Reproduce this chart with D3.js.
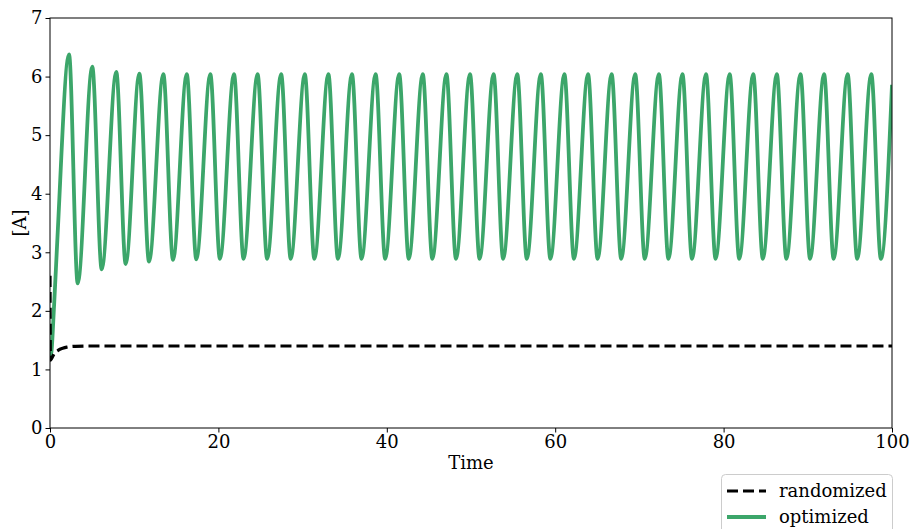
<!DOCTYPE html>
<html>
<head>
<meta charset="utf-8">
<script src="https://cdn.jsdelivr.net/npm/d3@7"></script>
<style>
  body { margin: 0; background: #fff; }
  svg { display: block; }
  text { font-family: "DejaVu Serif", "Liberation Serif", serif; fill: #000; }
</style>
</head>
<body>
<svg id="chart" width="910" height="529"></svg>
<script>
// Axis ticks
const xTicks = [0, 20, 40, 60, 80, 100];
const yTicks = [0, 1, 2, 3, 4, 5, 6, 7];

// Randomized parameters: quick settle to a steady level
const randomizedT = [0, 0.05, 0.2, 0.5, 1, 1.5, 2, 3, 5, 100];
const randomizedA = [2.6, 1.16, 1.19, 1.27, 1.33, 1.36, 1.38, 1.395, 1.40, 1.40];

// Optimized parameters: sustained oscillation (turning points)
const optimizedT = [
  0, 0.1, 0.48, 0.87,
  2.26, 3.29, 5.02, 6.14, 7.87, 8.99, 10.61, 11.76, 13.46, 14.61,
  16.24, 17.38, 19.04, 20.18, 21.85, 22.99, 24.65, 25.79, 27.45, 28.59,
  30.26, 31.40, 33.06, 34.20, 35.86, 37.00, 38.67, 39.81, 41.47, 42.61,
  44.27, 45.41, 47.08, 48.22, 49.88, 51.02, 52.68, 53.82, 55.49, 56.63,
  58.29, 59.43, 61.09, 62.23, 63.90, 65.04, 66.70, 67.84, 69.50, 70.64,
  72.31, 73.45, 75.11, 76.25, 77.91, 79.05, 80.72, 81.86, 83.52, 84.66,
  86.32, 87.46, 89.13, 90.27, 91.93, 93.07, 94.73, 95.87, 97.54, 98.68,
  100
];
const optimizedA = [
  1.30, 1.25, 2.08, 3.21,
  6.38, 2.47, 6.17, 2.71, 6.08, 2.80, 6.05, 2.84, 6.04, 2.87,
  6.04, 2.88, 6.04, 2.89, 6.04, 2.89, 6.04, 2.89, 6.04, 2.89,
  6.04, 2.89, 6.04, 2.89, 6.04, 2.89, 6.04, 2.89, 6.04, 2.89,
  6.04, 2.89, 6.04, 2.89, 6.04, 2.89, 6.04, 2.89, 6.04, 2.89,
  6.04, 2.89, 6.04, 2.89, 6.04, 2.89, 6.04, 2.89, 6.04, 2.89,
  6.04, 2.89, 6.04, 2.89, 6.04, 2.89, 6.04, 2.89, 6.04, 2.89,
  6.04, 2.89, 6.04, 2.89, 6.04, 2.89, 6.04, 2.89, 6.04, 2.89,
  5.86
];

const seriesNames = ["randomized", "optimized"];
const seriesColors = ["#000000", "#3ca66a"];

(function draw() {
  const svg = d3.select("#chart");
  const pLeft = 50, pRight = 892, pTop = 18, pBottom = 428;

  const x = d3.scaleLinear().domain([0, 100]).range([pLeft, pRight]);
  const y = d3.scaleLinear().domain([0, 7]).range([pBottom, pTop]);

  svg.append("defs").append("clipPath").attr("id", "plot-clip")
    .append("rect").attr("x", pLeft).attr("y", pTop)
    .attr("width", pRight - pLeft).attr("height", pBottom - pTop);

  const plot = svg.append("g").attr("clip-path", "url(#plot-clip)");

  const line = d3.line()
    .x(d => x(d[0]))
    .y(d => y(d[1]))
    .curve(d3.curveMonotoneX);

  const optimizedData = optimizedT.map((t, i) => [t, optimizedA[i]]);
  const randomizedData = randomizedT.map((t, i) => [t, randomizedA[i]]);

  plot.append("path")
    .datum(optimizedData)
    .attr("d", line)
    .attr("fill", "none")
    .attr("stroke", seriesColors[1])
    .attr("stroke-width", 3.8)
    .attr("stroke-linejoin", "round");

  plot.append("path")
    .datum(randomizedData)
    .attr("d", line)
    .attr("fill", "none")
    .attr("stroke", seriesColors[0])
    .attr("stroke-width", 3.2)
    .attr("stroke-dasharray", "11,5");

  // Axes
  const fmt = d3.format("d");
  const xAxis = svg.append("g")
    .attr("transform", `translate(0,${pBottom})`)
    .call(d3.axisBottom(x).tickValues(xTicks).tickFormat(fmt).tickSize(4.5).tickPadding(3));
  const yAxis = svg.append("g")
    .attr("transform", `translate(${pLeft},0)`)
    .call(d3.axisLeft(y).tickValues(yTicks).tickFormat(fmt).tickSize(4.5).tickPadding(3));

  [xAxis, yAxis].forEach(g => {
    g.select(".domain").remove();
    g.selectAll(".tick line").attr("stroke", "#000").attr("stroke-width", 1);
    g.selectAll(".tick text")
      .attr("font-size", 18)
      .attr("font-family", "DejaVu Serif, serif")
      .attr("fill", "#000");
  });

  // Frame
  svg.append("rect")
    .attr("x", pLeft).attr("y", pTop)
    .attr("width", pRight - pLeft).attr("height", pBottom - pTop)
    .attr("fill", "none").attr("stroke", "#000").attr("stroke-width", 1);

  // Axis titles
  svg.append("text")
    .attr("x", (pLeft + pRight) / 2).attr("y", 469)
    .attr("text-anchor", "middle").attr("font-size", 18)
    .text("Time");

  svg.append("text")
    .attr("transform", `translate(26,${(pTop + pBottom) / 2}) rotate(-90)`)
    .attr("text-anchor", "middle").attr("font-size", 18)
    .text("[A]");

  // Legend
  const legend = svg.append("g");
  legend.append("rect")
    .attr("x", 721.5).attr("y", 474.5)
    .attr("width", 171).attr("height", 80).attr("rx", 4)
    .attr("fill", "#fff").attr("fill-opacity", 0.8)
    .attr("stroke", "#cccccc").attr("stroke-width", 1);

  seriesNames.forEach((name, i) => {
    const ly = 491 + i * 26;
    legend.append("line")
      .attr("x1", 727).attr("x2", 766).attr("y1", ly).attr("y2", ly)
      .attr("stroke", seriesColors[i])
      .attr("stroke-width", i === 0 ? 3.2 : 3.8)
      .attr("stroke-dasharray", i === 0 ? "11,5" : null);
    legend.append("text")
      .attr("x", 779).attr("y", ly + 6)
      .attr("font-size", 18)
      .text(name);
  });
})();
</script>
</body>
</html>
